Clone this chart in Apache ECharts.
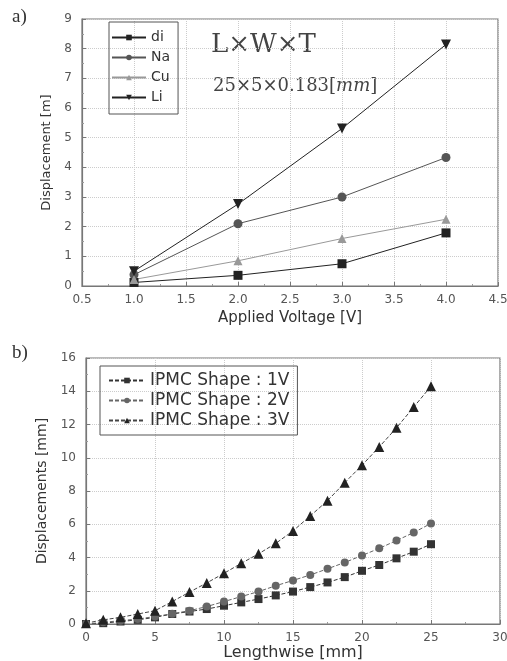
<!DOCTYPE html>
<html><head><meta charset="utf-8">
<script src="https://cdn.jsdelivr.net/npm/echarts@6/dist/echarts.min.js"></script>
<style>html,body{margin:0;padding:0;background:#fff}#c{width:507px;height:661px}</style>
</head><body><div id="c"></div>
<script>
// Panel a
const voltages = [1.0, 2.0, 3.0, 4.0];
const di = [0.12, 0.36, 0.75, 1.79];
const na = [0.38, 2.1, 3.0, 4.33];
const cu = [0.22, 0.85, 1.6, 2.25];
const li = [0.5, 2.76, 5.31, 8.14];
const voltTicks = ['0.5','1.0','1.5','2.0','2.5','3.0','3.5','4.0','4.5'];
// Panel b
const lengthwise = [0, 1.25, 2.5, 3.75, 5, 6.25, 7.5, 8.75, 10, 11.25, 12.5, 13.75, 15, 16.25, 17.5, 18.75, 20, 21.25, 22.5, 23.75, 25];
const shape1V = [0.0, 0.05, 0.15, 0.25, 0.4, 0.6, 0.75, 0.9, 1.1, 1.3, 1.5, 1.72, 1.95, 2.22, 2.5, 2.82, 3.2, 3.55, 3.95, 4.35, 4.8];
const shape2V = [0.0, 0.1, 0.2, 0.3, 0.45, 0.62, 0.8, 1.05, 1.35, 1.65, 1.95, 2.3, 2.62, 2.95, 3.32, 3.7, 4.12, 4.55, 5.02, 5.5, 6.05];
const shape3V = [0.05, 0.25, 0.4, 0.6, 0.8, 1.35, 1.92, 2.47, 3.05, 3.65, 4.22, 4.85, 5.6, 6.5, 7.42, 8.5, 9.55, 10.65, 11.8, 13.05, 14.3];

const pair = (xs, ys) => xs.map((x, i) => [x, ys[i]]);
const font = 'DejaVu Sans, Arial, sans-serif';
const tickLabel = {color: '#555', fontSize: 12, fontFamily: font};
const axisLine = {show: true, lineStyle: {color: '#777', width: 1.2}};
const split = {show: true, lineStyle: {color: '#ccc', type: 'dotted'}};
const ticks = {show: true, inside: true, length: 4, lineStyle: {color: '#777'}};
const minor = {show: true, splitNumber: 2, length: 2, lineStyle: {color: '#999'}};
const bounds = {left: -200, right: -200, top: -200, bottom: -200};

const chart = echarts.init(document.getElementById('c'), null, {renderer: 'canvas'});
chart.setOption({
  backgroundColor: '#fff',
  animation: false,
  grid: [
    {left: 82, top: 19, width: 416, height: 267, show: true, borderColor: '#777', borderWidth: 1.2,
     outerBoundsMode: 'none', outerBounds: bounds, containLabel: false},
    {left: 86, top: 358, width: 414, height: 266, show: true, borderColor: '#777', borderWidth: 1.2,
     outerBoundsMode: 'none', outerBounds: bounds, containLabel: false}
  ],
  xAxis: [
    {gridIndex: 0, type: 'value', min: 0.5, max: 4.5, interval: 0.5,
     axisLabel: Object.assign({}, tickLabel, {formatter: (v) => voltTicks[Math.round((v - 0.5) / 0.5)], margin: 8}),
     axisLine, axisTick: ticks, minorTick: minor, splitLine: split,
     name: 'Applied Voltage [V]', nameLocation: 'middle', nameGap: 25,
     nameTextStyle: {fontSize: 15, color: '#333', fontFamily: font}},
    {gridIndex: 1, type: 'value', min: 0, max: 30, interval: 5,
     axisLabel: Object.assign({}, tickLabel, {margin: 8}),
     axisLine, axisTick: ticks, minorTick: minor, splitLine: split,
     name: 'Lengthwise [mm]', nameLocation: 'middle', nameGap: 21,
     nameTextStyle: {fontSize: 16, color: '#333', fontFamily: font}}
  ],
  yAxis: [
    {gridIndex: 0, type: 'value', min: 0, max: 9, interval: 1,
     axisLabel: Object.assign({}, tickLabel, {margin: 10}),
     axisLine, axisTick: ticks, minorTick: minor, splitLine: split,
     name: 'Displacement [m]', nameLocation: 'middle', nameGap: 28,
     nameTextStyle: {fontSize: 13, color: '#333', fontFamily: font}},
    {gridIndex: 1, type: 'value', min: 0, max: 16, interval: 2,
     axisLabel: Object.assign({}, tickLabel, {margin: 10}),
     axisLine, axisTick: ticks, minorTick: minor, splitLine: split,
     name: 'Displacements [mm]', nameLocation: 'middle', nameGap: 32,
     nameTextStyle: {fontSize: 14, color: '#333', fontFamily: font}}
  ],
  legend: [
    {data: ['di', 'Na', 'Cu', 'Li'], orient: 'vertical', left: 109, top: 22,
     itemWidth: 34, itemHeight: 7, itemGap: 5, padding: [8, 8, 9, 2],
     borderColor: '#555', borderWidth: 1, borderRadius: 0,
     textStyle: {fontSize: 14, lineHeight: 15, color: '#333', fontFamily: font}},
    {data: ['IPMC Shape : 1V', 'IPMC Shape : 2V', 'IPMC Shape : 3V'], orient: 'vertical', left: 100, top: 366,
     itemWidth: 36, itemHeight: 7, itemGap: 3, padding: [6, 8, 6, 8],
     borderColor: '#555', borderWidth: 1, borderRadius: 0,
     textStyle: {fontSize: 17, lineHeight: 17, color: '#333', fontFamily: font}}
  ],
  graphic: [
    {type: 'text', left: 12, top: 8, style: {text: 'a)', fontSize: 19, fontFamily: 'Liberation Serif, serif', fill: '#333'}},
    {type: 'text', left: 12, top: 344, style: {text: 'b)', fontSize: 19, fontFamily: 'Liberation Serif, serif', fill: '#333'}},
    {type: 'text', left: 211, top: 32, style: {text: 'L×W×T', fontSize: 26, fontFamily: 'DejaVu Serif, serif', fill: '#444'}},
    {type: 'text', left: 213, top: 77, style: {
      rich: {n: {fontSize: 18, fontFamily: 'DejaVu Serif, serif', fill: '#444'},
             i: {fontSize: 18, fontFamily: 'DejaVu Serif, serif', fontStyle: 'italic', fill: '#444'}},
      text: '{n|25×5×0.183[}{i|mm}{n|]}'}}
  ],
  series: [
    {name: 'di', type: 'line', xAxisIndex: 0, yAxisIndex: 0, data: pair(voltages, di),
     symbol: 'rect', symbolSize: 9, itemStyle: {color: '#222'}, lineStyle: {color: '#222', width: 1}},
    {name: 'Na', type: 'line', xAxisIndex: 0, yAxisIndex: 0, data: pair(voltages, na),
     symbol: 'circle', symbolSize: 9, itemStyle: {color: '#555'}, lineStyle: {color: '#555', width: 1}},
    {name: 'Cu', type: 'line', xAxisIndex: 0, yAxisIndex: 0, data: pair(voltages, cu),
     symbol: 'triangle', symbolSize: 9, itemStyle: {color: '#999'}, lineStyle: {color: '#999', width: 1}},
    {name: 'Li', type: 'line', xAxisIndex: 0, yAxisIndex: 0, data: pair(voltages, li),
     symbol: 'triangle', symbolRotate: 180, symbolSize: 10, itemStyle: {color: '#222'}, lineStyle: {color: '#222', width: 1}},
    {name: 'IPMC Shape : 1V', type: 'line', xAxisIndex: 1, yAxisIndex: 1, data: pair(lengthwise, shape1V),
     symbol: 'rect', symbolSize: 8, itemStyle: {color: '#333'}, lineStyle: {color: '#333', width: 1, type: [4, 2]}},
    {name: 'IPMC Shape : 2V', type: 'line', xAxisIndex: 1, yAxisIndex: 1, data: pair(lengthwise, shape2V),
     symbol: 'circle', symbolSize: 8, itemStyle: {color: '#666'}, lineStyle: {color: '#666', width: 1, type: [4, 2]}},
    {name: 'IPMC Shape : 3V', type: 'line', xAxisIndex: 1, yAxisIndex: 1, data: pair(lengthwise, shape3V),
     symbol: 'triangle', symbolSize: 10, itemStyle: {color: '#222'}, lineStyle: {color: '#444', width: 1, type: [4, 2]}}
  ]
});
</script></body></html>
